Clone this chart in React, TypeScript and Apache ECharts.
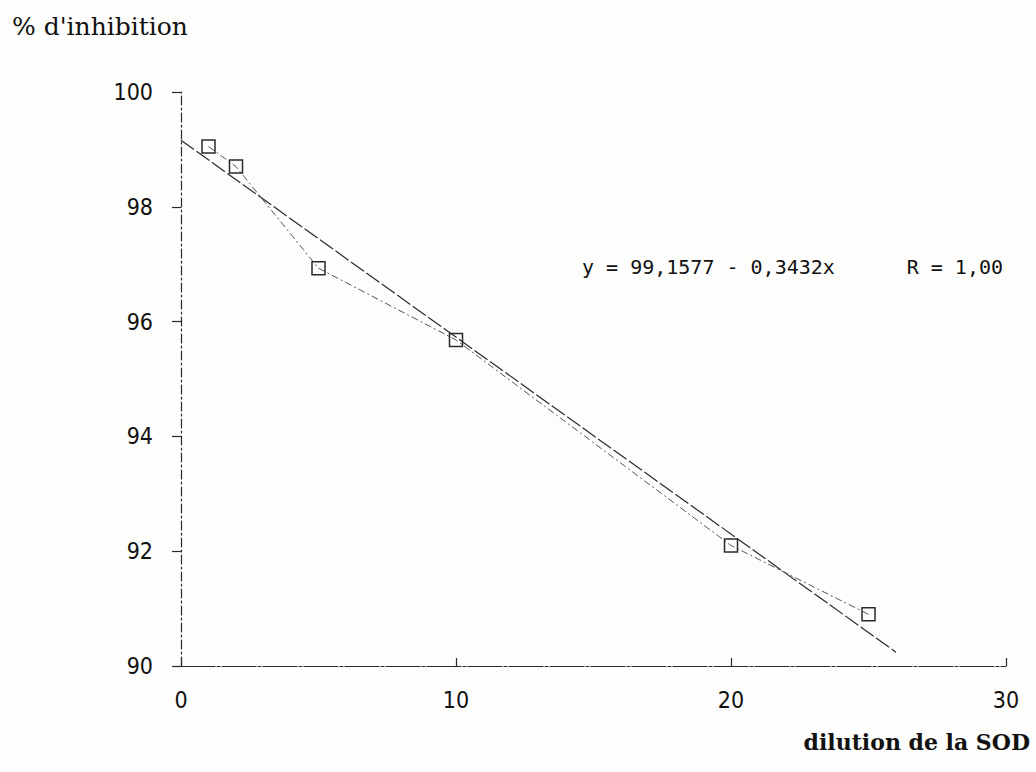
import React, { useEffect, useRef } from "react";
import * as echarts from "echarts";

// Measured data points (dilution vs % inhibition)
const dilution = [1, 2, 5, 10, 20, 25];
const inhibition = [99.05, 98.7, 96.93, 95.68, 92.1, 90.9];

// Regression line endpoints (y = 99,1577 - 0,3432x)
const regDilution = [0, 26];
const regInhibition = [99.16, 90.24];

const yAxisTitle = "% d'inhibition";
const xAxisTitle = "dilution de la SOD";
const equationText = "y = 99,1577 - 0,3432x";
const rText = "R = 1,00";

const INK = "#2a2a2a";
const TICK_FONT = "'Liberation Sans Narrow', 'DejaVu Sans Condensed', sans-serif";

export default function App() {
  const ref = useRef<HTMLDivElement>(null);

  useEffect(() => {
    if (!ref.current) return;
    const chart = echarts.init(ref.current, null, { renderer: "svg" });
    chart.setOption({
      animation: false,
      backgroundColor: "#fdfdfb",
      grid: { left: 181, right: 30, top: 92, bottom: 106, containLabel: false },
      xAxis: {
        type: "value",
        min: 0,
        max: 30,
        interval: 10,
        axisLine: { show: true, lineStyle: { color: INK, width: 1.2, type: [34, 2, 3, 2] } },
        axisTick: { show: true, inside: true, length: 8, lineStyle: { color: INK, width: 1.2 } },
        axisLabel: { margin: 22, color: "#111", fontSize: 23, fontFamily: TICK_FONT },
        splitLine: { show: false },
      },
      yAxis: {
        type: "value",
        min: 90,
        max: 100,
        interval: 2,
        axisLine: { show: true, lineStyle: { color: INK, width: 1.2, type: [9, 3, 2, 3] } },
        axisTick: { show: true, inside: false, length: 9, lineStyle: { color: INK, width: 1.2 } },
        axisLabel: { margin: 28, color: "#111", fontSize: 23, fontFamily: TICK_FONT },
        splitLine: { show: false },
      },
      series: [
        {
          type: "line",
          name: "regression",
          data: regDilution.map((x, i) => [x, regInhibition[i]]),
          showSymbol: false,
          symbol: "none",
          lineStyle: { color: INK, width: 1.2, type: [16, 3] },
          z: 2,
        },
        {
          type: "line",
          name: "mesures",
          data: dilution.map((x, i) => [x, inhibition[i]]),
          symbol: "rect",
          symbolSize: 13,
          itemStyle: { color: "rgba(0,0,0,0)", borderColor: INK, borderWidth: 1.5 },
          lineStyle: { color: "#555", width: 1, type: [7, 3, 2, 3] },
          z: 3,
        },
      ],
      graphic: [
        {
          type: "text",
          left: 12,
          top: 14,
          style: {
            text: yAxisTitle,
            font: "25px 'DejaVu Serif', 'Liberation Serif', serif",
            fill: "#111",
          },
        },
        {
          type: "text",
          right: 6,
          top: 731,
          style: {
            text: xAxisTitle,
            font: "bold 22px 'DejaVu Serif', 'Liberation Serif', serif",
            fill: "#111",
          },
        },
        {
          type: "text",
          left: 582,
          top: 257,
          style: {
            text: equationText,
            font: "20px 'DejaVu Sans Mono', monospace",
            fill: "#111",
          },
        },
        {
          type: "text",
          right: 33,
          top: 257,
          style: {
            text: rText,
            font: "20px 'DejaVu Sans Mono', monospace",
            fill: "#111",
          },
        },
      ],
    });
    return () => chart.dispose();
  }, []);

  return (
    <div
      ref={ref}
      style={{ position: "fixed", left: 0, top: 0, width: 1036, height: 772 }}
    />
  );
}
